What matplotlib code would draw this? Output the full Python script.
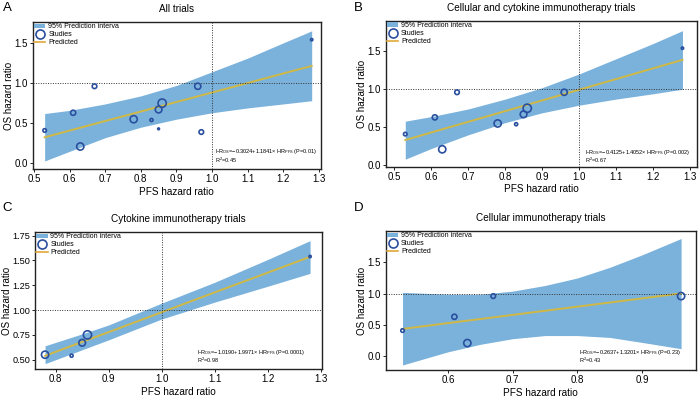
import matplotlib
matplotlib.use("Agg")
import matplotlib.pyplot as plt
from matplotlib.lines import Line2D
from matplotlib.patches import Patch

plt.rcParams['font.family'] = ['Liberation Sans', 'DejaVu Sans']
plt.rcParams['mathtext.default'] = 'regular'

# studies: PFS HR, OS HR, relative weight
pfs_all = [0.53, 0.61, 0.63, 0.67, 0.78, 0.83, 0.85, 0.85, 0.86, 0.96, 0.97, 1.28]
os_all = [0.41, 0.63, 0.21, 0.96, 0.55, 0.54, 0.43, 0.67, 0.75, 0.96, 0.39, 1.54]
w_all = [12, 25, 49, 20, 49, 9, 3, 42, 64, 36, 20, 5]

pfs_b = [0.53, 0.61, 0.63, 0.67, 0.78, 0.83, 0.85, 0.86, 0.96, 1.28]
os_b = [0.41, 0.63, 0.21, 0.96, 0.55, 0.54, 0.67, 0.75, 0.96, 1.54]
w_b = [12, 25, 49, 20, 49, 9, 42, 64, 36, 5]

pfs_c = [0.78, 0.83, 0.85, 0.86, 1.28]
os_c = [0.55, 0.54, 0.67, 0.75, 1.54]
w_c = [49, 9, 42, 64, 5]

pfs_d = [0.53, 0.61, 0.63, 0.67, 0.96]
os_d = [0.41, 0.63, 0.21, 0.96, 0.96]
w_d = [12, 25, 49, 20, 49]

# prediction band and fitted line
band_x_a = [0.53, 0.6, 0.7, 0.8, 0.9, 1.0, 1.1, 1.2, 1.28]
band_hi_a = [0.62, 0.66, 0.74, 0.84, 0.97, 1.14, 1.31, 1.50, 1.65]
band_lo_a = [0.03, 0.15, 0.32, 0.45, 0.55, 0.63, 0.69, 0.74, 0.78]
line_a = [0.325, 0.408, 0.527, 0.645, 0.764, 0.882, 1.000, 1.119, 1.213]

band_x_b = [0.53, 0.6, 0.7, 0.8, 0.9, 1.0, 1.1, 1.2, 1.28]
band_hi_b = [0.58, 0.64, 0.74, 0.87, 1.02, 1.20, 1.40, 1.60, 1.77]
band_lo_b = [0.08, 0.22, 0.40, 0.56, 0.69, 0.79, 0.87, 0.94, 1.00]
line_b = [0.332, 0.431, 0.571, 0.712, 0.852, 0.993, 1.133, 1.274, 1.386]

band_x_c = [0.78, 0.85, 0.9, 1.0, 1.1, 1.2, 1.28]
band_hi_c = [0.64, 0.76, 0.85, 1.07, 1.28, 1.51, 1.70]
band_lo_c = [0.46, 0.60, 0.70, 0.91, 1.08, 1.24, 1.37]
line_c = [0.539, 0.679, 0.778, 0.978, 1.178, 1.377, 1.537]

band_x_d = [0.53, 0.6, 0.65, 0.7, 0.75, 0.8, 0.85, 0.9, 0.96]
band_hi_d = [1.02, 0.99, 0.99, 1.04, 1.13, 1.25, 1.42, 1.62, 1.88]
band_lo_d = [-0.14, 0.07, 0.19, 0.28, 0.33, 0.33, 0.30, 0.22, 0.12]
line_d = [0.436, 0.529, 0.594, 0.660, 0.726, 0.792, 0.858, 0.924, 1.004]

titles = ['All trials', 'Cellular and cytokine immunotherapy trials',
          'Cytokine immunotherapy trials', 'Cellular immunotherapy trials']
letters = ['A', 'B', 'C', 'D']
eq_text = [r'HR$_{OS}$=−0.3024+1.1841× HR$_{PFS}$ (P=0.01)',
           r'HR$_{OS}$=−0.4125+1.4052× HR$_{PFS}$ (P=0.002)',
           r'HR$_{OS}$=−1.0190+1.9971× HR$_{PFS}$ (P=0.0001)',
           r'HR$_{OS}$=−0.2637+1.3201× HR$_{PFS}$ (P=0.23)']
r2_text = [r'R$^2$=0.45', r'R$^2$=0.67', r'R$^2$=0.98', r'R$^2$=0.43']

band_col = '#7ab2dc'
line_col = '#d0b845'
dot_col = '#2a4f9e'

fig = plt.figure(figsize=(7, 4), dpi=100)
rects = [[0.047, 0.5775, 0.411, 0.3675],
         [0.551, 0.583, 0.444, 0.365],
         [0.050, 0.0775, 0.410, 0.3425],
         [0.551, 0.075, 0.4433, 0.3475]]
xlims = [(0.497, 1.305), (0.477, 1.318), (0.761, 1.3025), (0.504, 0.983)]
ylims = [(-0.07, 1.76), (-0.02, 1.90), (0.406, 1.787), (-0.22, 2.0)]
xticks = [[0.5, 0.6, 0.7, 0.8, 0.9, 1.0, 1.1, 1.2, 1.3],
          [0.5, 0.6, 0.7, 0.8, 0.9, 1.0, 1.1, 1.2, 1.3],
          [0.8, 0.9, 1.0, 1.1, 1.2, 1.3],
          [0.6, 0.7, 0.8, 0.9]]
yticks = [[0.0, 0.5, 1.0, 1.5], [0.0, 0.5, 1.0, 1.5],
          [0.50, 0.75, 1.00, 1.25, 1.50, 1.75], [0.0, 0.5, 1.0, 1.5]]
yfmt = ['%.1f', '%.1f', '%.2f', '%.1f']
eq_pos = [(0.632, 0.116, 0.061), (0.642, 0.099, 0.046),
          (0.566, 0.122, 0.066), (0.624, 0.127, 0.072)]
letter_pos = [(0.004, 0.995), (0.505, 0.995), (0.004, 0.495), (0.505, 0.495)]

panels = [
    (pfs_all, os_all, w_all, band_x_a, band_lo_a, band_hi_a, line_a),
    (pfs_b, os_b, w_b, band_x_b, band_lo_b, band_hi_b, line_b),
    (pfs_c, os_c, w_c, band_x_c, band_lo_c, band_hi_c, line_c),
    (pfs_d, os_d, w_d, band_x_d, band_lo_d, band_hi_d, line_d),
]

for i, (px, py, pw, bx, blo, bhi, ln) in enumerate(panels):
    ax = fig.add_axes(rects[i])
    ax.fill_between(bx, blo, bhi, color=band_col, lw=0, zorder=1)
    ax.plot(bx, ln, color=line_col, lw=1.4, zorder=2)
    ax.axhline(1.0, color='#333333', lw=0.7, ls=(0, (1, 1.5)), zorder=3)
    if xlims[i][1] > 1.0:
        ax.axvline(1.0, color='#333333', lw=0.7, ls=(0, (1, 1.5)), zorder=3)
    ax.scatter(px, py, s=[w * 0.55 for w in pw], facecolors='none',
               edgecolors=dot_col, linewidths=1.2, zorder=4)
    ax.set_xlim(*xlims[i])
    ax.set_ylim(*ylims[i])
    ax.set_xticks(xticks[i])
    ax.set_yticks(yticks[i])
    ax.set_xticklabels(['%.1f' % v for v in xticks[i]])
    ax.set_yticklabels([yfmt[i] % v for v in yticks[i]])
    ax.tick_params(labelsize=7.0, length=2, width=0.6, pad=1.5)
    for sp in ax.spines.values():
        sp.set_linewidth(1.0)
        sp.set_color('#222222')
    ax.set_xlabel('PFS hazard ratio', fontsize=7.2, labelpad=2)
    ax.set_ylabel('OS hazard ratio', fontsize=7.0, labelpad=0.5)
    if i == 2:
        ax.tick_params(axis='y', labelsize=6.6)
        ax.yaxis.set_label_coords(-0.08, 0.5)
    ax.set_title(titles[i], fontsize=7.2, pad=7)

    ex, ey1, ey2 = eq_pos[i]
    ax.text(ex, ey1, eq_text[i], transform=ax.transAxes, fontsize=4.0,
            va='center', ha='left')
    ax.text(ex, ey2, r2_text[i], transform=ax.transAxes, fontsize=4.0,
            va='center', ha='left')

    handles = [Patch(facecolor=band_col, edgecolor='none'),
               Line2D([], [], marker='o', ls='none', mfc='none', mec=dot_col,
                      mew=1.2, ms=6.5),
               Line2D([], [], color='#e0a83a', lw=1.2)]
    ax.legend(handles, ['95% Prediction interva', 'Studies', 'Predicted'],
              loc='upper left', fontsize=5, frameon=False, handlelength=1.6,
              handleheight=0.7, labelspacing=0.15, borderaxespad=0.1,
              borderpad=0.1, handletextpad=0.4)

    lx, ly = letter_pos[i]
    fig.text(lx, ly, letters[i], fontsize=9.5, va='top', ha='left')

fig.savefig('out.png', dpi=100)
